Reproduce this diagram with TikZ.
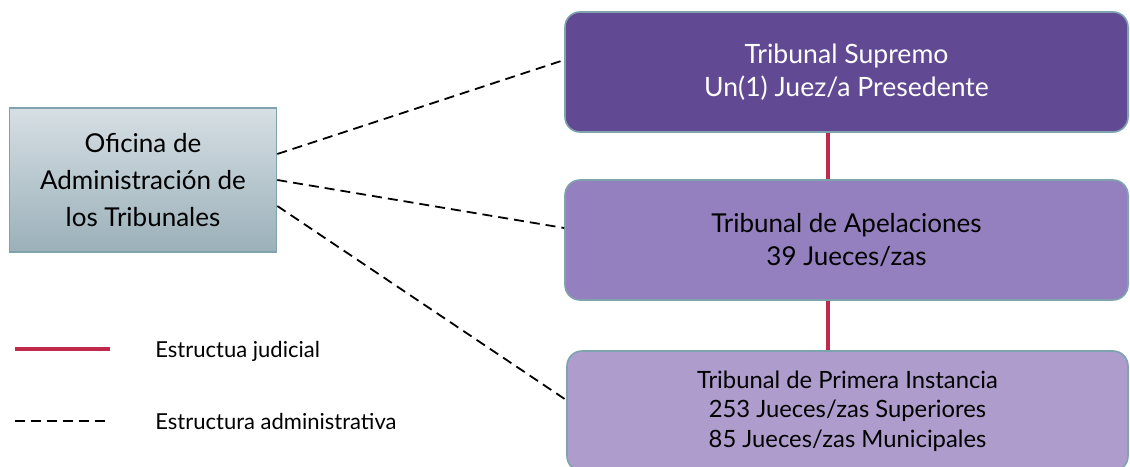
\documentclass[tikz,border=0pt]{standalone}
\usepackage{fontspec}
\setmainfont{Lato}
\usetikzlibrary{positioning}
\definecolor{supremo}{HTML}{614A93}
\definecolor{apelacion}{HTML}{9480BF}
\definecolor{primera}{HTML}{AE9CCD}
\definecolor{boxline}{HTML}{7FA3AC}
\definecolor{judred}{HTML}{C0284C}
\definecolor{ofitop}{HTML}{D6DFE4}
\definecolor{ofibot}{HTML}{9BB0B9}
\begin{document}
\begin{tikzpicture}
	[x=0.5pt,y=-0.5pt,
	 box/.style={draw=boxline,line width=0.8pt,rounded corners=7.5pt,align=center,inner sep=0pt},
	 judicial/.style={draw=judred,line width=2pt},
	 admin/.style={draw=black,line width=0.9pt,dash pattern=on 5pt off 3pt}]
	\useasboundingbox (0,0) rectangle (1130,466);
	% oficina
	\node[box,rounded corners=0pt,top color=ofitop,bottom color=ofibot,minimum width=133.5pt,minimum height=72pt,
	 font=\fontsize{13}{18.5}\selectfont] (oficina) at (143,180) {Oficina de\\Administración de\\los Tribunales};
	% tribunales
	\node[box,fill=supremo,text=white,minimum width=281.5pt,minimum height=60pt,
	 font=\fontsize{13.3}{16.5}\selectfont] (supremo) at (846.5,72) {Tribunal Supremo\\Un(1) Juez/a Presedente};
	\node[box,fill=apelacion,minimum width=281.5pt,minimum height=60pt,
	 font=\fontsize{13}{16.5}\selectfont] (apelacion) at (846.5,240) {Tribunal de Apelaciones\\39 Jueces/zas};
	\node[box,fill=primera,minimum width=280.5pt,minimum height=60pt,
	 font=\fontsize{11.9}{14.7}\selectfont] (primera) at (847.5,411) {Tribunal de Primera Instancia\\253 Jueces/zas Superiores\\85 Jueces/zas Municipales};
	% conexiones
	\draw[judicial] (supremo.south -| 828,0) -- (apelacion.north -| 828,0);
	\draw[judicial] (apelacion.south -| 828,0) -- (primera.north -| 828,0);
	\draw[admin] ([yshift=13pt]oficina.east) -- ([yshift=6pt]supremo.west);
	\draw[admin] (oficina.east) -- ([yshift=6pt]apelacion.west);
	\draw[admin] ([yshift=-13pt]oficina.east) -- ([yshift=5.5pt]primera.west);
	% leyenda
	\coordinate (jud-a) at (15,349);
	\coordinate (jud-b) at (110,349);
	\coordinate (adm-a) at (15,421);
	\coordinate (adm-b) at (110,421);
	\draw[judicial] (jud-a) -- (jud-b);
	\draw[admin] (adm-a) -- (adm-b);
	\draw (155,351) node[anchor=west,inner sep=0pt,font=\fontsize{11}{13}\selectfont] (jud-txt) {Estructua judicial};
	\draw (155,421) node[anchor=west,inner sep=0pt,font=\fontsize{11}{13}\selectfont] (adm-txt) {Estructura administrativa};
\end{tikzpicture}
\end{document}
